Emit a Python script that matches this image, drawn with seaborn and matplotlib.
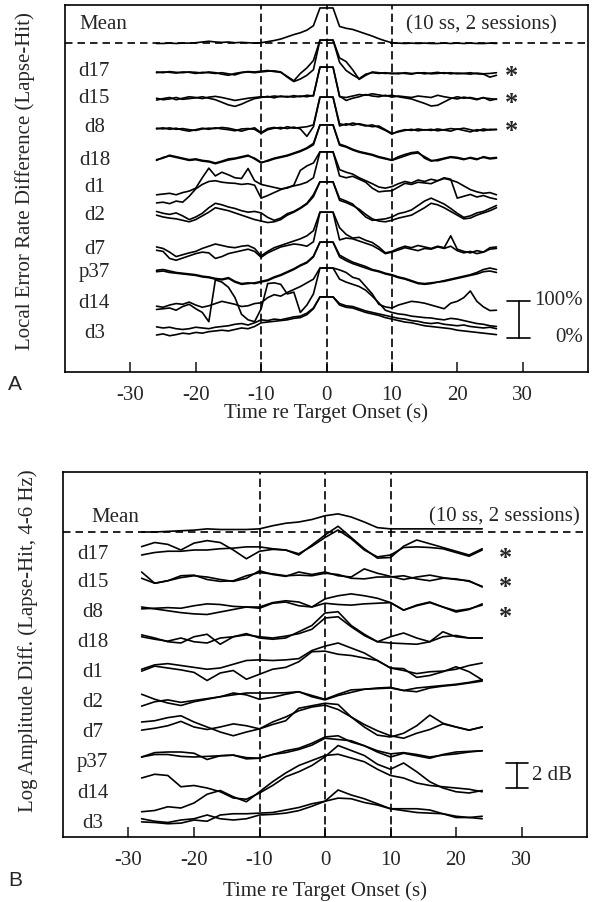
import matplotlib
matplotlib.use("Agg")
import matplotlib.pyplot as plt
import pandas as pd
import seaborn as sns

# ------------------------------------------------------------------
# data
# ------------------------------------------------------------------
subjects = ["d17", "d15", "d8", "d18", "d1", "d2", "d7", "p37", "d14", "d3"]
starred = ["d17", "d15", "d8"]

# panel A: local error rate difference (%), one value per second
t_a = list(range(-26, 27))

mean_a = [4, 4, 5, 4, 5, 5, 6, 8, 10, 8, 7, 8, 6, 7, 6, 5, 6, 9, 12, 16, 22, 28, 33, 40, 52, 100,
          100,
          100, 50, 45, 42, 36, 30, 24, 17, 11, 6, 5, 4, 5, 4, 5, 4, 4, 5, 4, 5, 4, 5, 4, 4, 5, 4]

d17_a1 = [14, 12, 15, 13, 12, 14, 13, 11, 14, 12, 8, 5, 10, 13, 15, 14, 16, 18, 15, 13, 2, -10, 10, 25, 45, 100,
          100,
          100, 52, 42, 20, -6, 5, 14, 12, 10, 11, 9, 12, 10, 11, 12, 9, 10, 12, 9, 11, 10, 12, 9, 8, 0, 5]
d17_a2 = [12, 14, 13, 11, 14, 13, 10, 13, 12, 10, 12, 9, 6, 12, 14, 12, 14, 16, 17, 14, 0, -12, -5, 5, 20, 100,
          100,
          100, 40, 18, 6, -4, 8, 12, 10, 12, 9, 11, 10, 8, 12, 9, 11, 13, 10, 12, 9, 10, 8, 11, 9, 10, 12]
d15_a1 = [11, 15, 18, 12, 16, 20, 18, 15, 19, 21, 18, 14, 10, 13, 16, 18, 20, 19, 22, 20, 21, 19, 22, 20, 24, 100,
          100,
          100, 20, 18, 22, 26, 24, 28, 25, 22, 24, 20, 17, 14, 8, 2, -5, -3, 6, 15, 20, 16, 18, 14, 17, 15, 13]
d15_a2 = [16, 12, 14, 18, 13, 15, 17, 20, 16, 12, 5, -2, -6, 0, 8, 15, 18, 21, 17, 22, 19, 23, 20, 24, 22, 100,
          100,
          100, 22, 10, 16, 20, 26, 22, 20, 24, 19, 22, 20, 18, 22, 20, 18, 24, 20, 17, 14, 19, 16, 12, 18, 10, 14]
d8_a1 = [16, 14, 17, 13, 15, 12, 10, 14, 16, 15, 18, 16, 12, 8, 13, 17, 4, 15, 18, 14, 20, 16, 18, 20, 25, 100,
         100,
         100, 28, 24, 30, 26, 22, 25, 18, 10, 0, 8, 12, 10, 14, 11, 13, 9, 12, 15, 13, 16, 12, 8, 14, 11, 13]
d8_a2 = [14, 17, 13, 16, 11, 8, 12, 16, 13, 17, 14, 12, 9, 14, 15, 13, 2, 12, 16, 18, 15, 19, 14, -6, 20, 100,
         100,
         100, 22, 28, 24, 28, 24, 20, 22, 12, 2, 6, 10, 13, 9, 12, 10, 14, 11, 8, 14, 10, 6, 12, 9, 13, 12]
d18_a1 = [6, 10, 18, 14, 10, 6, 8, 4, 2, -3, 2, 8, 10, 14, 18, 8, -3, 4, 10, 14, 18, 24, 30, 38, 50, 100,
          100,
          100, 48, 42, 34, 28, 24, 20, 14, 10, 5, 14, 20, 25, 27, 10, 2, 6, 10, 14, 12, 8, 10, 6, 14, 10, 12]
d18_a2 = [4, 12, 16, 12, 8, 4, 6, 2, 0, -5, 0, 5, 8, 12, 16, 10, -1, 2, 8, 12, 16, 22, 28, 36, 46, 100,
          100,
          100, 45, 40, 32, 26, 22, 18, 12, 8, 4, 10, 16, 22, 24, 14, 4, 3, 8, 12, 10, 6, 12, 8, 12, 8, 10]
d1_a1 = [-16, -14, -12, -16, -10, -6, 2, 30, 56, 35, 45, 38, 30, 28, 55, 22, 12, 8, 4, 0, 2, 10, 50, 62, 70, 100,
         100,
         100, 52, 45, 40, 30, 22, 14, 5, 2, 6, 14, 20, 16, 24, 20, 26, 22, 30, 26, -25, -20, -15, -22, -18, -24, -28]
d1_a2 = [-38, -36, -40, -33, -36, -20, 0, 12, 20, 22, 18, 16, 15, 12, 14, 10, -25, -18, -10, -2, 4, 8, 12, 18, 30, 100,
         100,
         100, 35, 30, 34, 26, 18, 2, -8, -6, -5, 5, 15, 12, 18, 16, 14, 22, 28, 24, 18, 8, -2, -8, -12, -10, -16]
d2_a1 = [20, 15, 12, 16, 8, -2, 5, 15, 30, 42, 38, 32, 28, 22, 18, 20, 16, 4, -4, 2, 14, 20, 30, 42, 65, 100,
         100,
         100, 55, 48, 40, 22, 5, -4, -2, 0, 5, 14, 18, 24, 36, 48, 56, 48, 40, 28, 15, 4, 8, 16, 20, 28, 36]
d2_a2 = [10, 5, 2, 0, -4, -8, -2, 8, 18, 30, 26, 22, 16, 10, 4, -2, -6, -10, -8, -2, 10, 18, 28, 40, 60, 100,
         100,
         100, 50, 44, 36, 26, 12, 0, -6, -8, -4, 2, 6, 10, 20, 30, 42, 38, 30, 20, 10, 0, 2, 10, 16, 22, 30]
d7_a1 = [6, 2, -8, -20, -15, -10, -6, 2, 8, 14, 10, 6, 4, 8, 10, 2, -18, -6, 4, 10, 16, 22, 28, 36, 50, 100,
         100,
         100, 58, 40, 30, 32, 24, 18, 6, -10, -6, 2, 8, 4, 10, 6, 2, 8, 4, 36, 0, -6, -10, -4, -8, 4, 6]
d7_a2 = [-3, -6, -25, -30, -24, -18, -12, -8, -10, -25, -20, -12, -8, -4, 0, -6, -22, -10, -2, 6, 10, 14, 12, 8, 20, 100,
         100,
         100, 25, 30, 28, 22, 16, 10, 0, -12, -8, -2, 4, 0, -4, 2, 0, 6, 2, 8, -4, -10, -6, -12, -8, 0, 2]
p37_a1 = [24, 26, 22, 18, 16, 14, 12, 8, 6, 2, 0, 4, -6, -12, -10, -12, -8, -4, 4, 10, 18, 26, 36, 44, 60, 100,
          100,
          100, 65, 55, 46, 40, 34, 26, 22, 16, 12, 6, 2, -4, -10, -12, -10, -8, -4, 0, 4, 8, 12, 18, 26, 30, 26]
p37_a2 = [20, 22, 18, 16, 14, 12, 10, 6, 4, 0, -2, 2, -8, -14, -12, -10, -6, -2, 6, 12, 20, 28, 38, 46, 62, 100,
          100,
          100, 60, 50, 42, 36, 30, 24, 20, 14, 10, 4, 0, -6, -12, -14, -12, -8, -6, -2, 2, 6, 10, 14, 20, 22, 18]
d14_a1 = [-12, -10, -8, -14, -4, 2, -10, -20, -45, 68, 62, 48, 20, -25, -40, -45, -10, 58, 60, 56, 30, 35, -20, 0, 30, 100,
          100,
          100, 95, 88, 75, 70, 50, 30, 2, -5, -8, 0, 5, 10, 8, 5, 0, -5, -10, 5, 10, 20, 38, 10, -5, -15, -14]
d14_a2 = [-3, -6, 0, 4, 2, 8, 0, -6, -2, 4, 10, 6, 2, -4, -2, 4, 6, 20, 28, 24, 34, 42, 50, 60, 70, 100,
          100,
          100, 70, 62, 56, 50, 40, 24, 6, -14, -20, -24, -26, -30, -32, -34, -35, -38, -40, -36, -38, -42, -46, -50, -52, -56, -58]
d3_a1 = [19, 16, 18, 14, 12, 14, 18, 16, 14, 18, 20, 22, 26, 28, 24, 30, 38, 36, 40, 38, 42, 46, 48, 56, 70, 100,
         100,
         100, 82, 76, 74, 68, 62, 58, 54, 50, 46, 42, 40, 36, 34, 30, 28, 30, 26, 24, 22, 24, 20, 18, 16, 18, 14]
d3_a2 = [-3, 0, -5, -2, 2, 0, 4, 2, 6, 8, 10, 8, 12, 16, 14, 20, 30, 32, 34, 36, 38, 42, 44, 52, 68, 100,
         100,
         100, 78, 72, 70, 64, 58, 54, 50, 44, 40, 36, 32, 30, 26, 22, 20, 18, 16, 14, 10, 8, 6, 4, 2, 0, -2]

# panel B: log amplitude difference (dB), one value every 2 s
t_b = list(range(-28, 25, 2))

mean_b = [0.0, 0.0, 0.05, 0.1, 0.15, 0.25, 0.2, 0.2, 0.2, 0.25, 0.5, 0.7, 0.8, 1.0, 1.3, 1.45, 1.2, 0.8, 0.35,
          0.25, 0.25, 0.25, 0.25, 0.25, 0.25, 0.25, 0.25]

d17_b1 = [0.27, 0.6, 0.45, 0.0, 0.55, 0.75, 0.6, 0.0, -0.7, -0.1, 0.05, 0.0, -0.4, 0.4, 1.2, 1.9, 1.0, 0.1, -0.65, -0.6, 0.3, 0.8, 0.5, 0.2, -0.1, -0.4, 0.1]
d17_b2 = [-0.4, -0.2, -0.1, -0.1, 0.0, 0.0, 0.1, 0.15, 0.25, 0.25, 0.1, 0.0, -0.3, 0.3, 1.0, 1.6, 0.9, 0.0, -0.55, -0.4, 0.2, 0.25, 0.2, 0.1, -0.2, -0.5, 0.0]
d15_b1 = [0.4, -0.5, -0.3, -0.05, 0.1, 0.0, -0.2, -0.35, -0.1, 0.5, 0.2, 0.05, 0.4, 0.2, 0.4, 0.1, 0.0, 0.65, 0.3, 0.05, -0.2, 0.0, 0.15, -0.05, -0.2, -0.3, -0.8]
d15_b2 = [-0.1, -0.5, -0.3, 0.1, 0.15, -0.2, -0.35, -0.3, 0.1, 0.35, 0.25, 0.1, 0.15, 0.1, 0.3, 0.2, -0.1, -0.15, 0.0, 0.0, 0.1, -0.15, -0.3, -0.1, -0.15, -0.35, -0.75]
d8_b1 = [-0.15, -0.1, -0.05, -0.1, 0.1, 0.25, 0.2, 0.05, 0.0, 0.0, 0.35, 0.5, 0.4, 0.0, 0.65, 0.9, 1.05, 0.9, 0.7, 0.35, -0.25, 0.15, 0.4, 0.0, -0.4, -0.2, 0.25]
d8_b2 = [0.0, -0.15, -0.3, -0.45, -0.55, -0.6, -0.4, -0.2, 0.0, -0.1, 0.3, 0.4, 0.1, 0.0, 0.3, 0.2, 0.15, 0.25, 0.3, 0.35, -0.25, 0.1, 0.35, 0.0, -0.3, -0.15, 0.15]
d18_b1 = [0.25, 0.0, -0.3, -0.4, 0.1, 0.3, -0.5, 0.1, 0.35, 0.0, -0.1, 0.0, 0.5, 1.0, 2.0, 2.1, 1.0, 0.3, -0.3, 0.1, 0.4, 0.0, -0.3, 0.5, 0.1, 0.0, 0.0]
d18_b2 = [0.1, -0.1, -0.25, 0.0, -0.3, -0.4, 0.0, 0.1, 0.25, 0.1, 0.0, 0.15, 0.35, 0.7, 1.6, 1.7, 0.9, 0.2, -0.3, -0.4, -0.45, -0.5, -0.3, 0.1, 0.2, 0.0, 0.0]
d1_b1 = [-0.1, 0.25, 0.35, 0.2, 0.05, -0.1, 0.0, 0.3, 0.6, 0.65, 0.6, 0.65, 0.75, 1.4, 1.75, 2.0, 1.6, 1.2, 0.6, 0.0, -0.05, -0.75, -0.6, -0.3, 0.1, -0.3, -0.95]
d1_b2 = [-0.25, 0.15, 0.0, -0.15, -0.35, -1.0, -0.4, -0.2, -0.9, -0.5, -0.1, 0.05, 0.5, 1.3, 1.35, 1.1, 1.0, 0.8, 0.6, 0.0, -0.2, -0.45, -0.3, -0.25, -0.1, 0.2, 0.4]
d2_b1 = [0.3, -0.1, -0.4, -0.6, -0.3, -0.1, 0.1, 0.4, 0.25, -0.1, 0.05, 0.3, 0.5, 0.2, -0.1, 0.3, 0.65, 0.7, 0.75, 0.8, 0.6, 0.8, 0.9, 1.0, 1.1, 1.25, 1.45]
d2_b2 = [-0.65, -0.3, -0.15, -0.35, -0.2, -0.05, 0.1, 0.25, 0.4, 0.4, 0.4, 0.42, 0.5, 0.1, -0.15, 0.2, 0.45, 0.7, 0.8, 0.85, 0.6, 0.5, 0.8, 0.95, 1.05, 1.2, 1.35]
d7_b1 = [0.4, 0.5, 0.75, 0.9, 0.4, 0.0, -0.4, -0.7, -0.4, -0.15, 0.2, 0.5, 1.5, 1.7, 1.9, 1.8, 0.8, 0.0, -0.65, -0.8, -0.5, 0.1, 0.95, 0.3, 0.0, -0.25, 0.0]
d7_b2 = [-0.25, -0.1, 0.1, 0.45, 0.0, -0.2, 0.0, 0.25, 0.1, -0.15, 0.4, 0.8, 1.3, 1.6, 1.75, 1.4, 0.8, 0.2, -0.3, -0.7, -0.9, -0.5, -0.2, 0.25, 0.0, -0.25, 0.0]
p37_b1 = [0.0, 0.35, 0.4, 0.4, 0.3, -0.2, 0.1, 0.15, -0.05, -0.1, 0.2, 0.5, 0.7, 1.1, 1.6, 1.7, 1.2, 0.9, 0.4, 0.0, 0.3, 0.1, -0.1, 0.2, 0.4, 0.45, 0.5]
p37_b2 = [0.0, 0.2, 0.2, 0.05, 0.0, 0.05, 0.1, 0.15, -0.15, -0.1, 0.2, 0.35, 0.6, 0.95, 1.5, 1.4, 1.3, 0.9, 0.5, 0.25, 0.35, 0.2, 0.0, 0.15, 0.25, 0.4, 0.5]
d14_b1 = [1.2, 1.5, 1.4, 0.5, 0.6, 0.4, 0.1, -0.4, -0.5, 0.0, 0.6, 1.3, 1.7, 2.2, 2.9, 3.8, 3.4, 3.0, 2.3, 1.9, 2.4, 1.7, 0.9, 0.4, 0.1, 0.0, 0.2]
d14_b2 = [-1.5, -1.4, -1.1, -1.2, -0.8, -0.1, 0.2, -0.3, -0.7, 0.1, 0.9, 1.6, 2.2, 2.6, 3.0, 3.1, 2.8, 2.5, 1.9, 1.4, 1.2, 0.8, 0.6, 0.5, 0.4, 0.3, 0.1]
d3_b1 = [0.1, -0.1, -0.2, 0.0, 0.1, 0.4, 0.1, 0.0, 0.1, 0.4, 0.45, 0.55, 0.75, 1.1, 1.5, 2.4, 2.0, 1.7, 1.3, 0.9, 0.75, 0.6, 0.55, 0.5, 0.2, 0.2, 0.3]
d3_b2 = [-0.15, -0.2, -0.3, -0.25, 0.0, -0.1, 0.4, 0.5, 0.5, 0.55, 0.6, 0.8, 1.0, 1.3, 1.5, 1.75, 1.7, 1.4, 1.2, 0.9, 0.9, 0.9, 0.8, 0.5, 0.3, 0.2, 0.1]

traces_a = [(d17_a1, d17_a2), (d15_a1, d15_a2), (d8_a1, d8_a2), (d18_a1, d18_a2), (d1_a1, d1_a2),
            (d2_a1, d2_a2), (d7_a1, d7_a2), (p37_a1, p37_a2), (d14_a1, d14_a2), (d3_a1, d3_a2)]
traces_b = [(d17_b1, d17_b2), (d15_b1, d15_b2), (d8_b1, d8_b2), (d18_b1, d18_b2), (d1_b1, d1_b2),
            (d2_b1, d2_b2), (d7_b1, d7_b2), (p37_b1, p37_b2), (d14_b1, d14_b2), (d3_b1, d3_b2)]

# ------------------------------------------------------------------
# layout: vertical offset of each row (in the panel's own units)
# ------------------------------------------------------------------
off_a = [797, 724, 643, 568, 495, 414, 332, 251, 181, 103]
lab_a = [811, 738, 662, 573, 500, 424, 330, 268, 186, 105]
off_b = [22.96, 20.8, 18.4, 15.92, 13.52, 11.12, 8.8, 6.4, 3.52, 1.36]
lab_b = [22.6, 20.35, 17.95, 15.55, 13.15, 10.75, 8.35, 6.0, 3.5, 1.1]

FS = 15


def long_table(t, mean, mean_off, traces, offsets):
    rows = []
    for tt, v in zip(t, mean):
        rows.append(("mean", tt, v + mean_off))
    for name, pair, off in zip(subjects, traces, offsets):
        for k, ser in enumerate(pair):
            for tt, v in zip(t, ser):
                rows.append((f"{name}_{k}", tt, v + off))
    return pd.DataFrame(rows, columns=["trace", "t", "y"])


sns.set_style("white")
plt.rcParams["font.family"] = ["Liberation Serif", "DejaVu Serif"]
plt.rcParams["axes.linewidth"] = 1.2

fig = plt.figure(figsize=(5.94, 9.02), dpi=100)
W, H = 594, 902
ax_a = fig.add_axes([65 / W, 1 - 372 / H, 523 / W, 367 / H])
ax_b = fig.add_axes([63 / W, 1 - 837 / H, 524 / W, 365 / H])

dash_v = (0, (5, 2.5))
dash_h = (0, (4.5, 3))


def panel(ax, df, ymax, sep, mean_x, mean_lab, lab_pos, star_x, src_x, xlab_pad):
    sns.lineplot(data=df, x="t", y="y", units="trace", estimator=None, sort=False,
                 color="black", linewidth=1.2, ax=ax, legend=False)
    for xv in (-10, 0, 10):
        ax.axvline(xv, color="black", lw=1.2, ls=dash_v)
    ax.axhline(sep, color="black", lw=1.2, ls=dash_h)
    ax.set_xlim(-40, 40)
    ax.set_ylim(0, ymax)
    ax.set_xticks([-30, -20, -10, 0, 10, 20, 30])
    ax.set_xticklabels(["-30", "-20", "-10", "0", "10", "20", "30"])
    ax.set_yticks([])
    ax.tick_params(axis="x", direction="in", length=7, width=1.2, labelsize=FS, pad=10,
                   bottom=True, top=False)
    ax.set_xlabel("Time re Target Onset (s)", fontsize=FS, labelpad=xlab_pad)
    ax.set_ylabel("")
    for s in ax.spines.values():
        s.set_color("black")
    ax.text(mean_x, mean_lab, "Mean", fontsize=FS, ha="left", va="center")
    ax.text(src_x, mean_lab, "(10 ss, 2 sessions)", fontsize=FS, ha="right", va="center")
    for name, ly in zip(subjects, lab_pos):
        ax.text(-35.5, ly, name, fontsize=FS, ha="center", va="center")
        if name in starred:
            ax.text(star_x, ly - 0.012 * ymax, "*", fontsize=19, fontweight="bold",
                    ha="center", va="center")


# panel A
df_a = long_table(t_a, mean_a, 884, traces_a, off_a)
panel(ax_a, df_a, 992, 889, -37.8, 938, lab_a, 28.3, 35.2, -1)
ax_a.plot([29.4, 29.4], [92, 192], color="black", lw=1.2)
ax_a.plot([27.6, 31.2], [192, 192], color="black", lw=1.2)
ax_a.plot([27.6, 31.2], [92, 92], color="black", lw=1.2)
ax_a.text(39.2, 192, "100%", fontsize=FS, ha="right", va="center")
ax_a.text(39.2, 92, "0%", fontsize=FS, ha="right", va="center")

# panel B
df_b = long_table(t_b, mean_b, 24.4, traces_b, off_b)
panel(ax_b, df_b, 29.2, 24.4, -35.6, 25.6, lab_b, 27.5, 38.9, 8)
ax_b.plot([29.3, 29.3], [3.94, 5.94], color="black", lw=1.2)
ax_b.plot([27.6, 31.0], [5.94, 5.94], color="black", lw=1.2)
ax_b.plot([27.6, 31.0], [3.94, 3.94], color="black", lw=1.2)
ax_b.text(31.6, 4.94, "2 dB", fontsize=FS, ha="left", va="center")

fig.text(25 / W, 1 - 181 / H, "Local Error Rate Difference (Lapse-Hit)", fontsize=FS,
         rotation=90, ha="center", va="center")
fig.text(28 / W, 1 - 641 / H, "Log Amplitude Diff. (Lapse-Hit, 4-6 Hz)", fontsize=FS,
         rotation=90, ha="center", va="center")
fig.text(8 / W, 1 - 384 / H, "A", fontsize=FS, family="Liberation Sans", ha="left", va="center")
fig.text(8 / W, 1 - 881 / H, "B", fontsize=FS, family="Liberation Sans", ha="left", va="center")

fig.savefig("out.png", dpi=100)
